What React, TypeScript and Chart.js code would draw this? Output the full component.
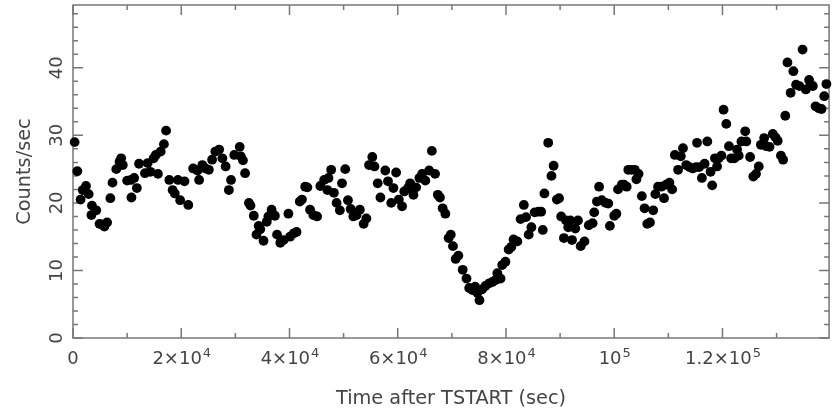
import { useEffect, useRef } from "react";
import { Chart, registerables } from "chart.js";

Chart.register(...registerables);

// Time after TSTART (seconds)
const timeSec = [
  300, 800, 1400, 1800, 2400, 2900, 3400, 3500, 4300, 4900, 5300, 5800, 6300, 6900, 7300, 8000, 8600, 8900, 9200,
  10000, 10700, 10800, 11300, 11800, 12200, 13300, 13800, 14300, 14900, 15300, 15700, 16200, 16800, 17200, 17800,
  18400, 18800, 19400, 19800, 20600, 21300, 22200, 23000, 23300, 23900, 24500, 25100, 25700, 26300, 27000, 27600,
  28200, 28800, 29200, 29800, 30800, 31000, 31400, 31800, 32500, 32800, 33400, 33900, 34300, 34600, 35200, 35800,
  36100, 36700, 37300, 37700, 38300, 38900, 39800, 40100, 40800, 41300, 41900, 42300, 42900, 43300, 43800, 44400,
  45100, 45700, 46400, 47000, 47200, 47700, 48200, 48700, 49300, 49700, 50300, 50800, 51300, 51800, 52400, 53000,
  53700, 54200, 54700, 55300, 55700, 56300, 56800, 57700, 58200, 58800, 59200, 59700, 60200, 60800, 61200, 61900,
  62300, 62900, 63400, 64000, 64500, 65100, 65800, 66300, 66900, 67400, 67800, 68300, 68800, 69400, 69800, 70200,
  70700, 71200, 72000, 72700, 73200, 73800, 74300, 74700, 75100, 75600, 76200, 76900, 77500, 78100, 78400, 79000,
  79300, 79900, 80500, 81000, 81400, 82100, 82700, 83300, 83700, 84200, 84700, 85300, 86000, 86500, 86800, 87100,
  87800, 88400, 88800, 89400, 89800, 90200, 90700, 91100, 91500, 91900, 92200, 92800, 93300, 93800, 94500, 95300,
  96000, 96300, 96800, 97200, 97700, 98400, 98900, 99200, 100000, 100400, 100700, 101400, 101800, 102300, 102600,
  103200, 103800, 104100, 104500, 105100, 105600, 106100, 106600, 107200, 107600, 108100, 108700, 109200, 109600,
  110200, 110700, 111200, 111800, 112300, 112700, 113300, 113900, 114500, 115100, 115300, 115700, 116200, 116700,
  117200, 117800, 118100, 118600, 119000, 119300, 119800, 120200, 120700, 121200, 121600, 122200, 122700, 123000,
  123500, 124200, 124400, 125100, 125700, 126200, 126700, 127100, 127700, 128100, 128700, 129300, 129800, 130200,
  130800, 131200, 131600, 132000, 132600, 133100, 133600, 134200, 134800, 135400, 136000, 136300, 136700, 137200,
  137800, 138300, 138800, 139200,
];

// Counts/sec
const countRate = [
  29.0, 24.7, 20.5, 21.9, 22.5, 21.3, 18.2, 19.6, 18.9, 16.9, 16.8, 16.5, 17.1, 20.7, 23.0, 25.0, 26.1, 26.6, 25.6,
  23.3, 23.4, 20.8, 23.7, 22.2, 25.8, 24.4, 25.9, 24.6, 26.6, 27.1, 24.3, 27.6, 28.7, 30.7, 23.4,
  21.9, 21.4, 23.4, 20.4, 23.2, 19.7, 25.1, 24.8, 23.4, 25.6, 25.1, 24.9, 26.4, 27.6, 27.9, 26.6,
  25.4, 21.9, 23.4, 27.1, 28.3, 26.9, 26.3, 24.4, 20.0, 19.6, 18.1, 15.3, 16.6, 16.1, 14.4, 17.2,
  18.0, 19.0, 18.1, 15.3, 14.1, 14.5, 18.4, 15.0, 15.5, 15.7, 20.2, 20.5, 22.4, 22.3, 19.0, 18.2,
  18.0, 22.5, 23.4, 21.9, 23.7, 24.9, 21.5, 20.0, 18.9, 22.9, 25.0, 20.4, 19.1, 18.0, 18.2, 19.0,
  16.9, 17.7, 25.6, 26.8, 25.4, 22.9, 20.8, 24.8, 23.2, 20.0, 22.2, 24.5, 20.5, 19.5, 21.7, 22.2,
  22.9, 21.2, 22.3, 23.7, 24.3, 23.3, 24.8, 27.7, 24.3, 21.2, 20.8, 19.2, 18.4, 14.8, 15.3, 13.6,
  11.7, 12.2, 10.1, 8.8, 7.4, 7.1, 7.6, 6.7, 5.6, 7.2, 7.7, 8.1, 8.3, 8.6, 9.6, 8.8,
  10.8, 11.3, 13.1, 13.5, 14.6, 14.3, 17.6, 19.7, 17.9, 15.3, 16.4, 18.6, 18.7, 18.7, 16.0, 21.4,
  28.9, 24.0, 25.5, 20.5, 20.7, 18.0, 14.8, 17.4, 16.4, 17.4, 14.5, 16.2, 17.4, 13.6, 14.3, 16.7,
  17.0, 18.6, 20.2, 22.4, 20.4, 20.0, 19.9, 16.6, 18.1, 18.4, 22.0, 22.7, 22.7, 22.4, 24.9,
  24.9, 24.9, 23.5, 24.3, 21.0, 19.2, 16.9, 17.1, 18.9, 21.3, 22.4, 22.4, 20.7, 22.7,
  23.0, 22.0, 27.1, 24.9, 26.9, 28.1, 25.6, 25.3, 25.1, 25.3, 28.9, 25.3, 23.7, 25.8,
  29.1, 24.6, 22.6, 26.6, 25.4, 26.6, 27.0, 33.8, 31.7, 28.4, 26.6, 26.6, 27.9, 27.0,
  29.1, 30.6, 29.1, 26.8, 23.9, 24.3, 25.4, 28.6, 29.6, 28.4, 28.3, 30.2, 29.7, 29.2,
  27.0, 26.4, 32.9, 40.8, 36.3, 39.5, 37.5, 37.3, 42.7, 36.8, 38.2, 37.5, 37.3, 34.3,
  34.0, 33.9, 35.8, 37.6,
];

const xMajorTicks = [0, 20000, 40000, 60000, 80000, 100000, 120000];
const xTickMain = ["0", "2×10", "4×10", "6×10", "8×10", "10", "1.2×10"];
const xTickSup = ["", "4", "4", "4", "4", "5", "5"];
const yMajorTicks = [0, 10, 20, 30, 40];
const yTickLabels = ["0", "10", "20", "30", "40"];
const xMinorStep = 10000;
const yMinorStep = 2;
const xMin = 0;
const xMax = 139700;
const yMin = 0;
const yMax = 49.3;
const xTitle = "Time after TSTART (sec)";
const yTitle = "Counts/sec";

const FONT = '"DejaVu Sans", sans-serif';
const TEXT_COLOR = "#444";
const AXIS_COLOR = "#777";

const framePlugin = {
  id: "frame",
  beforeDatasetsDraw(chart: any) {
    const { ctx, chartArea } = chart;
    const xs = chart.scales.x;
    const ys = chart.scales.y;
    const { left, right, top, bottom } = chartArea;
    ctx.save();
    ctx.strokeStyle = AXIS_COLOR;
    ctx.lineWidth = 1.5;
    ctx.strokeRect(left, top, right - left, bottom - top);
    ctx.beginPath();
    for (let v = xMin; v <= xMax; v += xMinorStep) {
      const px = xs.getPixelForValue(v);
      const len = xMajorTicks.includes(v) ? 10 : 5;
      ctx.moveTo(px, bottom);
      ctx.lineTo(px, bottom - len);
      ctx.moveTo(px, top);
      ctx.lineTo(px, top + len);
    }
    for (let v = yMin; v <= yMax; v += yMinorStep) {
      const py = ys.getPixelForValue(v);
      const len = yMajorTicks.includes(v) ? 10 : 5;
      ctx.moveTo(left, py);
      ctx.lineTo(left + len, py);
      ctx.moveTo(right, py);
      ctx.lineTo(right - len, py);
    }
    ctx.stroke();
    ctx.restore();
  },
  afterDraw(chart: any) {
    const { ctx, chartArea } = chart;
    const xs = chart.scales.x;
    const ys = chart.scales.y;
    const { left, right, top, bottom } = chartArea;
    ctx.save();
    ctx.fillStyle = TEXT_COLOR;
    ctx.textBaseline = "alphabetic";
    // x tick labels
    const mainFont = `18px ${FONT}`;
    const supFont = `13px ${FONT}`;
    xMajorTicks.forEach((v, i) => {
      const px = xs.getPixelForValue(v);
      ctx.font = mainFont;
      const wm = ctx.measureText(xTickMain[i]).width;
      ctx.font = supFont;
      const ws = xTickSup[i] ? ctx.measureText(xTickSup[i]).width : 0;
      const start = px - (wm + ws) / 2;
      ctx.textAlign = "left";
      ctx.font = mainFont;
      ctx.fillText(xTickMain[i], start, bottom + 26);
      if (xTickSup[i]) {
        ctx.font = supFont;
        ctx.fillText(xTickSup[i], start + wm + 1, bottom + 18.5);
      }
    });
    // y tick labels (rotated)
    ctx.font = mainFont;
    ctx.textAlign = "center";
    yMajorTicks.forEach((v, i) => {
      const py = ys.getPixelForValue(v);
      ctx.save();
      ctx.translate(left - 11.5, py);
      ctx.rotate(-Math.PI / 2);
      ctx.fillText(yTickLabels[i], 0, 0);
      ctx.restore();
    });
    // titles
    ctx.font = `19.3px ${FONT}`;
    ctx.textAlign = "center";
    ctx.fillText(xTitle, (left + right) / 2, bottom + 66);
    ctx.save();
    ctx.translate(left - 43, (top + bottom) / 2);
    ctx.rotate(-Math.PI / 2);
    ctx.fillText(yTitle, 0, 0);
    ctx.restore();
    ctx.restore();
  },
};

export default function App() {
  const ref = useRef<HTMLCanvasElement | null>(null);
  useEffect(() => {
    if (!ref.current) return;
    const points = timeSec.map((t, i) => ({ x: t, y: countRate[i] }));
    const chart = new Chart(ref.current, {
      type: "scatter",
      data: {
        datasets: [
          {
            data: points,
            backgroundColor: "#000",
            borderColor: "#000",
            borderWidth: 0,
            pointRadius: 4.9,
            pointHoverRadius: 4.9,
            clip: false as any,
          },
        ],
      },
      options: {
        animation: false,
        responsive: false,
        maintainAspectRatio: false,
        devicePixelRatio: 1,
        layout: { padding: { left: 73, top: 5, right: 1, bottom: 72 } },
        plugins: { legend: { display: false }, tooltip: { enabled: false } },
        events: [],
        scales: {
          x: { type: "linear", min: xMin, max: xMax, display: false },
          y: { type: "linear", min: yMin, max: yMax, display: false },
        },
      },
      plugins: [framePlugin],
    });
    return () => chart.destroy();
  }, []);
  return (
    <div style={{ position: "absolute", left: 0, top: 0, width: 834, height: 410, background: "#fff" }}>
      <canvas ref={ref} width={834} height={410} style={{ display: "block" }} />
    </div>
  );
}
